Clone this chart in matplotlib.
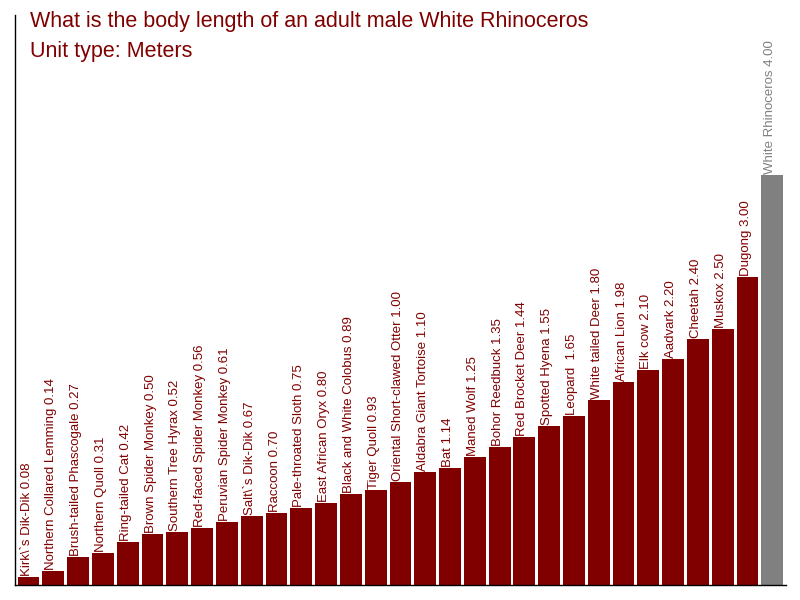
import numpy as np
import matplotlib.pyplot as plt

# data
animals = ["Kirk\\`s Dik-Dik", "Northern Collared Lemming", "Brush-tailed Phascogale",
           "Northern Quoll", "Ring-tailed Cat", "Brown Spider Monkey",
           "Southern Tree Hyrax", "Red-faced Spider Monkey", "Peruvian Spider Monkey",
           "Salt\\`s Dik-Dik", "Raccoon", "Pale-throated Sloth", "East African Oryx",
           "Black and White Colobus", "Tiger Quoll", "Oriental Short-clawed Otter",
           "Aldabra Giant Tortoise", "Bat", "Maned Wolf", "Bohor Reedbuck",
           "Red Brocket Deer", "Spotted Hyena", "Leopard ", "White tailed Deer",
           "African Lion", "Elk cow", "Aadvark", "Cheetah", "Muskox", "Dugong",
           "White Rhinoceros"]
lengths = [0.08, 0.14, 0.27, 0.31, 0.42, 0.50, 0.52, 0.56, 0.61, 0.67, 0.70, 0.75,
           0.80, 0.89, 0.93, 1.00, 1.10, 1.14, 1.25, 1.35, 1.44, 1.55, 1.65, 1.80,
           1.98, 2.10, 2.20, 2.40, 2.50, 3.00, 4.00]

red = '#800000'
grey = '#808080'

fig = plt.figure(figsize=(8, 6), dpi=100)
ax = fig.add_axes([15 / 800, 15 / 600, 771 / 800, 570 / 600])

x = np.arange(len(lengths))
colors = [red] * (len(lengths) - 1) + [grey]
w = 0.88
ax.bar(x, lengths, width=w, color=colors)

for i, (name, v) in enumerate(zip(animals, lengths)):
    ax.text(i - w / 2 + 0.12, v + 0.01, f"{name} {v:.2f}", rotation=90,
            ha='left', va='bottom', fontsize=9.5, color=colors[i],
            family='Liberation Sans')

ax.set_xlim(-0.544, 30.55)
ax.set_ylim(0, 5.56)
ax.set_xticks([])
ax.set_yticks([])
for s in ['top', 'right']:
    ax.spines[s].set_visible(False)
ax.spines['left'].set_linewidth(1)
ax.spines['bottom'].set_linewidth(1)

fig.text(30 / 800, 1 - 22 / 600, "What is the body length of an adult male White Rhinoceros",
         color=red, fontsize=15.5, va='center', family='Liberation Sans')
fig.text(30 / 800, 1 - 52 / 600, "Unit type: Meters",
         color=red, fontsize=15.5, va='center', family='Liberation Sans')

fig.savefig('out.png', dpi=100)
